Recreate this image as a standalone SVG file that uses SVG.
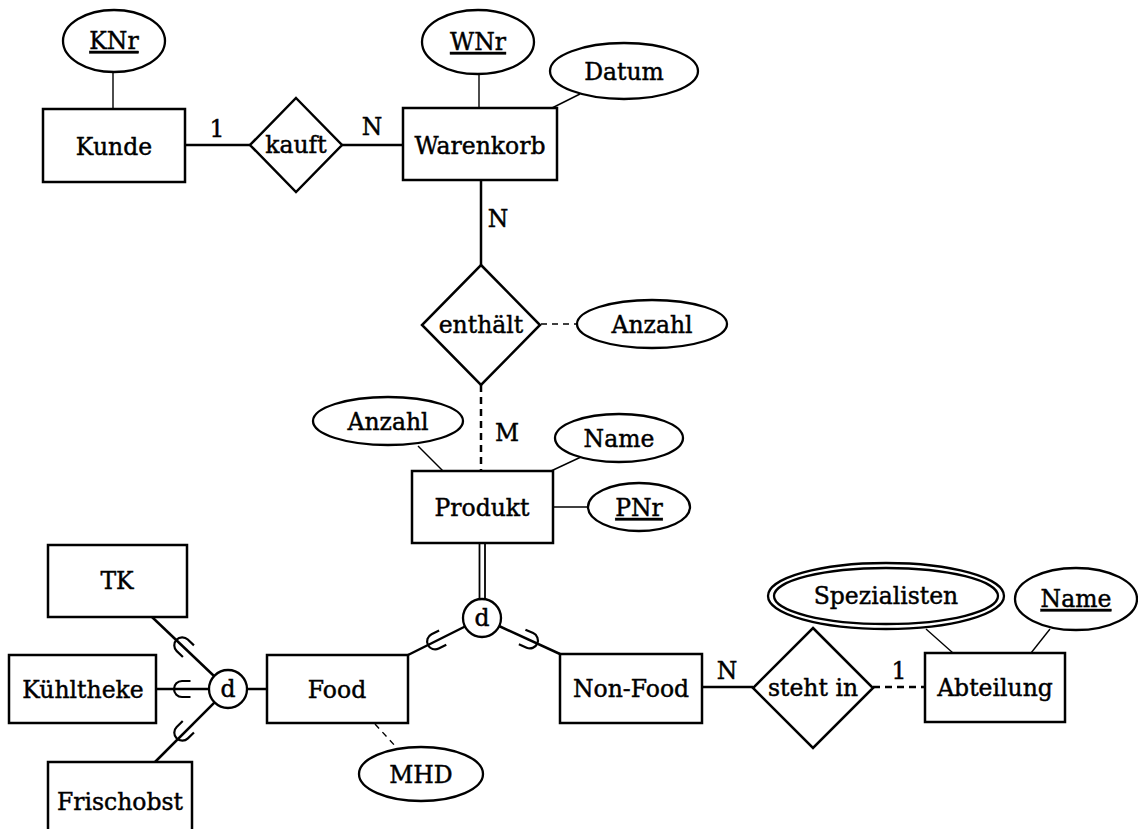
<svg xmlns="http://www.w3.org/2000/svg" xmlns:xlink="http://www.w3.org/1999/xlink" width="1138" height="829" viewBox="0 0 1138 829">
<style>
  .box { fill: #fff; stroke: #000; stroke-width: 2.5; }
  .ell { fill: #fff; stroke: #000; stroke-width: 2.3; }
  .t { font-family: "DejaVu Serif", "Liberation Serif", serif; font-size: 23.5px; fill: #000; stroke: #000; stroke-width: 0.45; text-anchor: middle; }
  .u { text-decoration: underline; }
  .rel { stroke: #000; stroke-width: 2.5; fill: none; }
  .att { stroke: #000; stroke-width: 1.4; fill: none; }
  .dbl { stroke: #000; stroke-width: 1.8; fill: none; }
  .dash { stroke: #000; stroke-width: 2.5; fill: none; stroke-dasharray: 7 5; }
  .dashthin { stroke: #000; stroke-width: 1.4; fill: none; stroke-dasharray: 6 5; }
  .sub { stroke: #000; stroke-width: 2.2; fill: none; }
</style>
<defs>
  <path id="subset" class="sub" d="M 7.5,-8 H -1 A 8,8 0 0 0 -1,8 H 7.5"/>
</defs>

<g id="connectors">
  <line class="att" x1="113" y1="72" x2="113" y2="109"/>
  <line class="rel" x1="185" y1="145" x2="250" y2="145"/>
  <line class="rel" x1="342" y1="145" x2="403" y2="145"/>
  <line class="att" x1="479" y1="74" x2="479" y2="108"/>
  <line class="att" x1="580" y1="94" x2="552" y2="108"/>
  <line class="rel" x1="481" y1="180" x2="481" y2="265"/>
  <line class="dashthin" x1="541" y1="324" x2="577" y2="324"/>
  <line class="dash" x1="481" y1="385" x2="481" y2="471"/>
  <line class="att" x1="418" y1="446" x2="443" y2="471"/>
  <line class="att" x1="581" y1="457" x2="551" y2="471"/>
  <line class="att" x1="553" y1="507" x2="588" y2="507"/>
  <line class="dbl" x1="479.5" y1="543" x2="479.5" y2="600"/>
  <line class="dbl" x1="485" y1="543" x2="485" y2="600"/>
  <line class="rel" x1="408" y1="655" x2="465" y2="626.5"/>
  <line class="rel" x1="560" y1="654" x2="499" y2="626"/>
  <line class="rel" x1="152" y1="617" x2="214" y2="676"/>
  <line class="rel" x1="156" y1="689" x2="209" y2="689"/>
  <line class="rel" x1="155" y1="762" x2="214.6" y2="702.4"/>
  <line class="rel" x1="247" y1="689" x2="267" y2="689"/>
  <line class="dashthin" x1="375" y1="724" x2="397" y2="748"/>
  <line class="rel" x1="702" y1="687" x2="753" y2="687"/>
  <line class="dash" x1="873" y1="687" x2="925" y2="687"/>
  <line class="att" x1="926" y1="629" x2="953" y2="653"/>
  <line class="att" x1="1050" y1="629" x2="1031" y2="653"/>
  <use xlink:href="#subset" href="#subset" transform="translate(183,646) rotate(43.6)"/>
  <use xlink:href="#subset" href="#subset" transform="translate(183,689)"/>
  <use xlink:href="#subset" href="#subset" transform="translate(183,732) rotate(-44.5)"/>
  <use xlink:href="#subset" href="#subset" transform="translate(436,641) rotate(-26.6)"/>
  <use xlink:href="#subset" href="#subset" transform="translate(529,640) rotate(-155.8)"/>
  <text class="t" x="217" y="137">1</text>
  <text class="t" x="372" y="135">N</text>
  <text class="t" x="498" y="227">N</text>
  <text class="t" x="507" y="441">M</text>
  <text class="t" x="727" y="679">N</text>
  <text class="t" x="899" y="679">1</text>
</g>

<g id="KNr"><ellipse class="ell" cx="114" cy="41" rx="51" ry="31"/><text class="t u" x="114" y="49">KNr</text></g>
<g id="Kunde"><rect class="box" x="43" y="109" width="142" height="73"/><text class="t" x="114" y="155">Kunde</text></g>
<g id="kauft"><polygon class="box" points="296,98 342,145 296,192 250,145"/><text class="t" x="296" y="153">kauft</text></g>
<g id="WNr"><ellipse class="ell" cx="478" cy="42" rx="56" ry="32"/><text class="t u" x="478" y="50">WNr</text></g>
<g id="Datum"><ellipse class="ell" cx="624" cy="71" rx="74" ry="28"/><text class="t" x="624" y="80">Datum</text></g>
<g id="Warenkorb"><rect class="box" x="403" y="108" width="154" height="72"/><text class="t" x="480" y="154">Warenkorb</text></g>
<g id="enthaelt"><polygon class="box" points="481,265 540,325 481,385 422,325"/><text class="t" x="481" y="333">enthält</text></g>
<g id="Anzahl_rel"><ellipse class="ell" cx="652" cy="324" rx="75" ry="24"/><text class="t" x="652" y="333">Anzahl</text></g>
<g id="Anzahl_prod"><ellipse class="ell" cx="388" cy="421" rx="75" ry="24"/><text class="t" x="388" y="430">Anzahl</text></g>
<g id="Name_prod"><ellipse class="ell" cx="619" cy="438" rx="64" ry="24"/><text class="t" x="619" y="447">Name</text></g>
<g id="Produkt"><rect class="box" x="412" y="471" width="141" height="72"/><text class="t" x="482" y="516">Produkt</text></g>
<g id="PNr"><ellipse class="ell" cx="639" cy="507" rx="51" ry="24"/><text class="t u" x="639" y="516">PNr</text></g>
<g id="d_produkt"><circle class="ell" cx="482" cy="618" r="19"/><text class="t" x="482" y="626">d</text></g>
<g id="TK"><rect class="box" x="48" y="545" width="139" height="72"/><text class="t" x="117" y="589">TK</text></g>
<g id="Kuehltheke"><rect class="box" x="9" y="655" width="147" height="68"/><text class="t" x="83" y="698">Kühltheke</text></g>
<g id="Frischobst"><rect class="box" x="48" y="762" width="144" height="90"/><text class="t" x="120" y="810">Frischobst</text></g>
<g id="d_food"><circle class="ell" cx="228" cy="689" r="19"/><text class="t" x="228" y="697">d</text></g>
<g id="Food"><rect class="box" x="267" y="655" width="141" height="68"/><text class="t" x="337" y="698">Food</text></g>
<g id="MHD"><ellipse class="ell" cx="421" cy="774" rx="62" ry="27"/><text class="t" x="421" y="783">MHD</text></g>
<g id="NonFood"><rect class="box" x="560" y="654" width="142" height="69"/><text class="t" x="631" y="697">Non-Food</text></g>
<g id="stehtin"><polygon class="box" points="813,628 873,688 813,748 753,688"/><text class="t" x="813" y="696">steht in</text></g>
<g id="Spezialisten"><ellipse class="ell" cx="886" cy="596" rx="118" ry="33"/><ellipse class="ell" cx="886" cy="596" rx="112" ry="28"/><text class="t" x="886" y="604">Spezialisten</text></g>
<g id="Name_abt"><ellipse class="ell" cx="1076" cy="599" rx="61" ry="31"/><text class="t u" x="1076" y="607">Name</text></g>
<g id="Abteilung"><rect class="box" x="925" y="653" width="140" height="69"/><text class="t" x="995" y="696">Abteilung</text></g>
</svg>
